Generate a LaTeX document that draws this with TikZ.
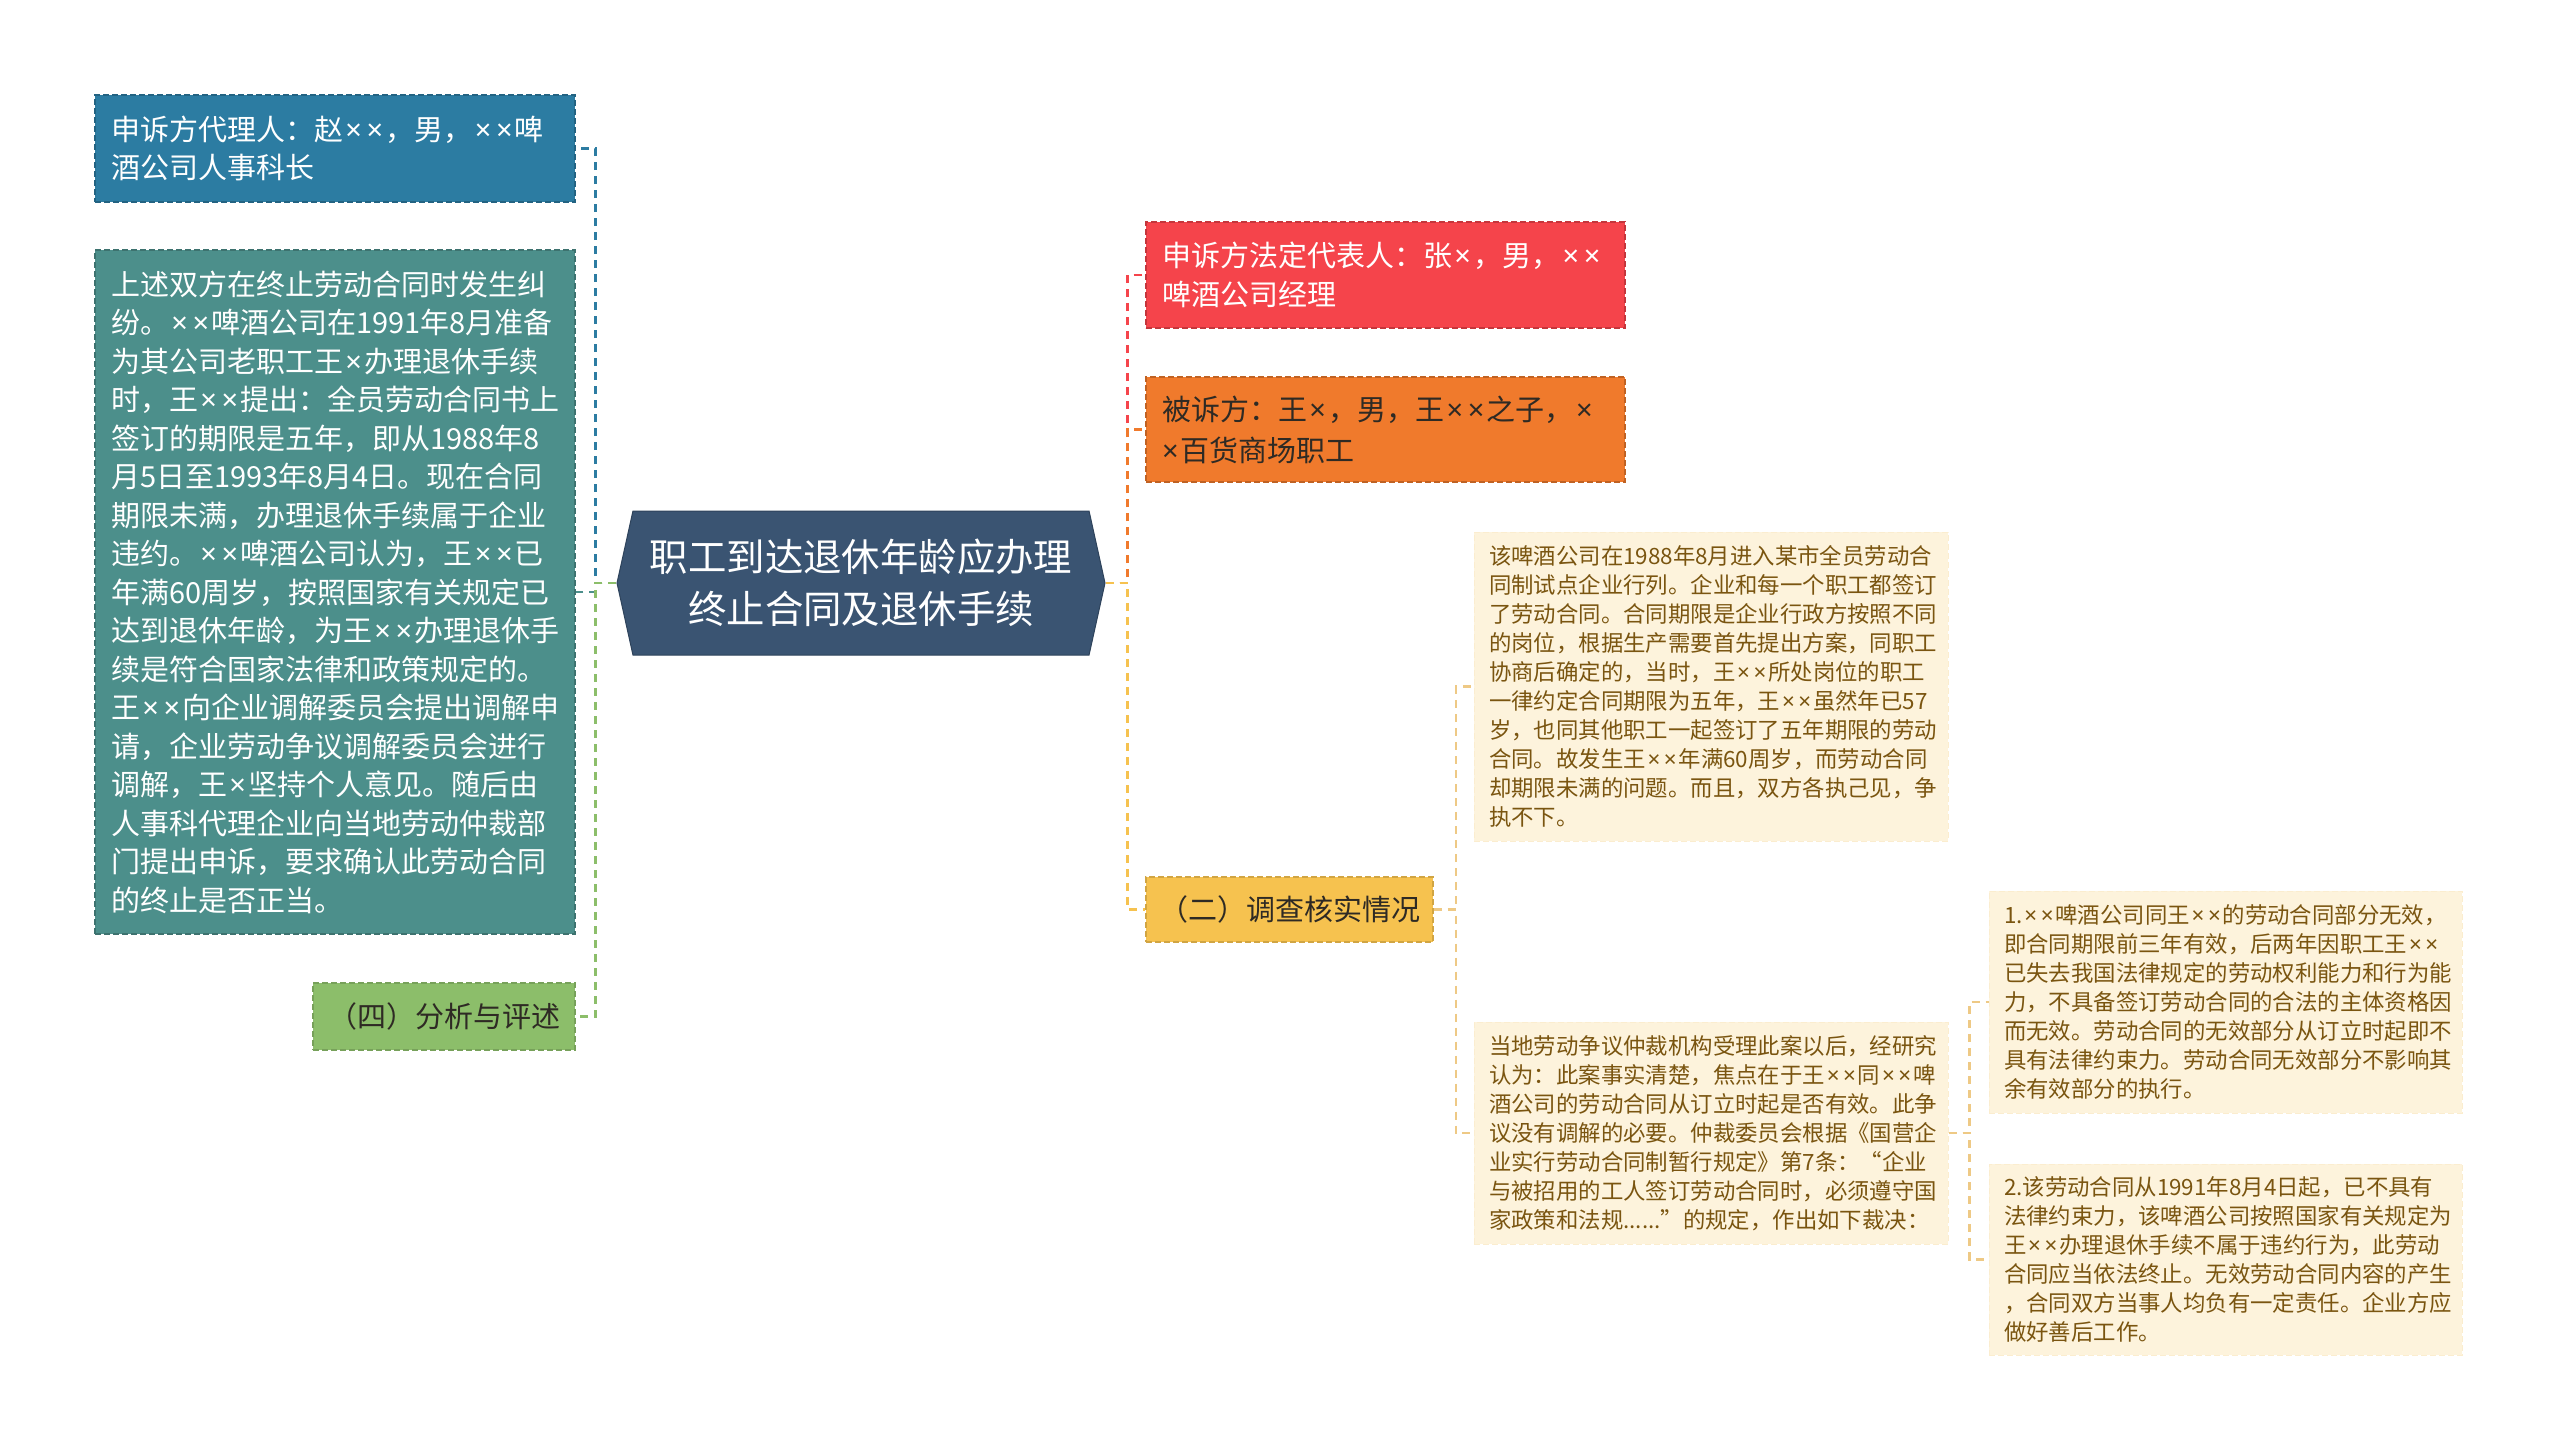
\documentclass[tikz,border=0pt]{standalone}
\usepackage{fontspec}
\setmainfont{Noto Sans CJK SC}
\newfontfamily\latinfont{Noto Sans}
\usepackage{tikz}
\usetikzlibrary{arrows,%
                shapes,positioning}
\definecolor{cBlue}{HTML}{2C7CA2}
\definecolor{cTeal}{HTML}{4C8F8B}
\definecolor{cGreen}{HTML}{8CBE6A}
\definecolor{cRoot}{HTML}{3A5472}
\definecolor{cRed}{HTML}{F5444B}
\definecolor{cOrange}{HTML}{F07A2C}
\definecolor{cYellow}{HTML}{F6C24F}
\definecolor{cCream}{HTML}{FDF3DC}
\definecolor{cBrown}{HTML}{7A5510}
\definecolor{cTan}{HTML}{EEC985}
\definecolor{cDark}{HTML}{2E2A24}
\catcode`\×=\active
\def×{{\kern0.08em\latinfont\char"D7\relax\kern0.08em}}

\begin{document}
\begin{tikzpicture}[x=1pt,y=-1pt,
  box/.style 2 args={rectangle,draw,dashed,dash pattern=on 6pt off 3pt,line width=1.5pt,
    inner xsep=16pt,inner ysep=0pt,align=left,text width=#1-32pt,minimum height=#2,
    font=\fontsize{29}{38.5}\selectfont},
  tag/.style 2 args={rectangle,draw,dashed,dash pattern=on 6pt off 3pt,line width=1.5pt,
    inner sep=0pt,align=center,minimum width=#1,minimum height=#2,
    font=\fontsize{29}{38.5}\selectfont,text=cDark},
  note/.style 2 args={rectangle,fill=cCream,draw=cCream!85!cTan,dashed,dash pattern=on 6pt off 3pt,
    line width=1pt,inner xsep=15pt,inner ysep=0pt,align=left,text width=#1-30pt,
    minimum height=#2,font=\fontsize{22.4}{29}\selectfont,text=cBrown},
  lnk/.style={dashed,dash pattern=on 8pt off 6pt,line width=2.5pt}]
\useasboundingbox (0,0) rectangle (2560,1456);

\node[signal,signal to=west and east,signal pointer angle=155,fill=cRoot,draw=cRoot!80!black,
  line width=1pt,minimum width=488pt,minimum height=144pt,inner sep=0pt,align=center,text=white,
  font=\fontsize{38.4}{52}\selectfont] (root) at (861,583) {职工到达退休年龄应办理\\终止合同及退休手续};

\node[box={480pt}{107pt},fill=cBlue,draw=cBlue!80!black,text=white] (l1) at (335,148.5)
  {申诉方代理人：赵××，男，××啤\\酒公司人事科长};
\node[box={480pt}{684pt},fill=cTeal,draw=cTeal!80!black,text=white] (l2) at (335,592)
  {上述双方在终止劳动合同时发生纠\\纷。××啤酒公司在1991年8月准备\\为其公司老职工王×办理退休手续\\时，王××提出：全员劳动合同书上\\签订的期限是五年，即从1988年8\\月5日至1993年8月4日。现在合同\\期限未满，办理退休手续属于企业\\违约。××啤酒公司认为，王××已\\年满60周岁，按照国家有关规定已\\达到退休年龄，为王××办理退休手\\续是符合国家法律和政策规定的。\\王××向企业调解委员会提出调解申\\请，企业劳动争议调解委员会进行\\调解，王×坚持个人意见。随后由\\人事科代理企业向当地劳动仲裁部\\门提出申诉，要求确认此劳动合同\\的终止是否正当。};
\node[tag={262pt}{67pt},fill=cGreen,draw=cGreen!85!black] (l3) at (444,1016.5) {（四）分析与评述};

\node[box={479pt}{106pt},fill=cRed,draw=cRed!80!black,text=white] (r1) at (1385.5,275)
  {申诉方法定代表人：张×，男，××\\啤酒公司经理};
\node[box={479pt}{105pt},fill=cOrange,draw=cOrange!80!black,text=cDark] (r2) at (1385.5,429.5)
  {被诉方：王×，男，王××之子，×\\×百货商场职工};
\node[tag={287pt}{65pt},fill=cYellow,draw=cYellow!85!black] (r3) at (1289.5,909.5) {（二）调查核实情况};

\node[note={474pt}{309pt}] (s1) at (1711,686.5)
  {该啤酒公司在1988年8月进入某市全员劳动合\\同制试点企业行列。企业和每一个职工都签订\\了劳动合同。合同期限是企业行政方按照不同\\的岗位，根据生产需要首先提出方案，同职工\\协商后确定的，当时，王××所处岗位的职工\\一律约定合同期限为五年，王××虽然年已57\\岁，也同其他职工一起签订了五年期限的劳动\\合同。故发生王××年满60周岁，而劳动合同\\却期限未满的问题。而且，双方各执己见，争\\执不下。};
\node[note={474pt}{222pt}] (s2) at (1711,1133)
  {当地劳动争议仲裁机构受理此案以后，经研究\\认为：此案事实清楚，焦点在于王××同××啤\\酒公司的劳动合同从订立时起是否有效。此争\\议没有调解的必要。仲裁委员会根据《国营企\\业实行劳动合同制暂行规定》第7条：“企业\\与被招用的工人签订劳动合同时，必须遵守国\\家政策和法规......”的规定，作出如下裁决：};
\node[note={473pt}{222pt}] (t1) at (2225.5,1002)
  {1.××啤酒公司同王××的劳动合同部分无效，\\即合同期限前三年有效，后两年因职工王××\\已失去我国法律规定的劳动权利能力和行为能\\力，不具备签订劳动合同的合法的主体资格因\\而无效。劳动合同的无效部分从订立时起即不\\具有法律约束力。劳动合同无效部分不影响其\\余有效部分的执行。};
\node[note={473pt}{191pt}] (t2) at (2225.5,1259.5)
  {2.该劳动合同从1991年8月4日起，已不具有\\法律约束力，该啤酒公司按照国家有关规定为\\王××办理退休手续不属于违约行为，此劳动\\合同应当依法终止。无效劳动合同内容的产生\\，合同双方当事人均负有一定责任。企业方应\\做好善后工作。};

\draw[lnk,cBlue] (root.west) -- ++(-21,0) |- (l1.east);
\draw[lnk,cTeal] (root.west) -- ++(-21,0) |- (l2.east);
\draw[lnk,cGreen] (root.west) -- ++(-21,0) |- (l3.east);
\draw[lnk,cRed] (root.east) -- ++(22,0) |- (r1.west);
\draw[lnk,cOrange] (root.east) -- ++(22,0) |- (r2.west);
\draw[lnk,cYellow] (root.east) -- ++(22,0) |- (r3.west);
\draw[lnk,cTan] (r3.east) -- ++(22,0) |- (s1.west);
\draw[lnk,cTan] (r3.east) -- ++(22,0) |- (s2.west);
\draw[lnk,cTan] (s2.east) -- ++(21,0) |- (t1.west);
\draw[lnk,cTan] (s2.east) -- ++(21,0) |- (t2.west);

\end{tikzpicture}
\end{document}
